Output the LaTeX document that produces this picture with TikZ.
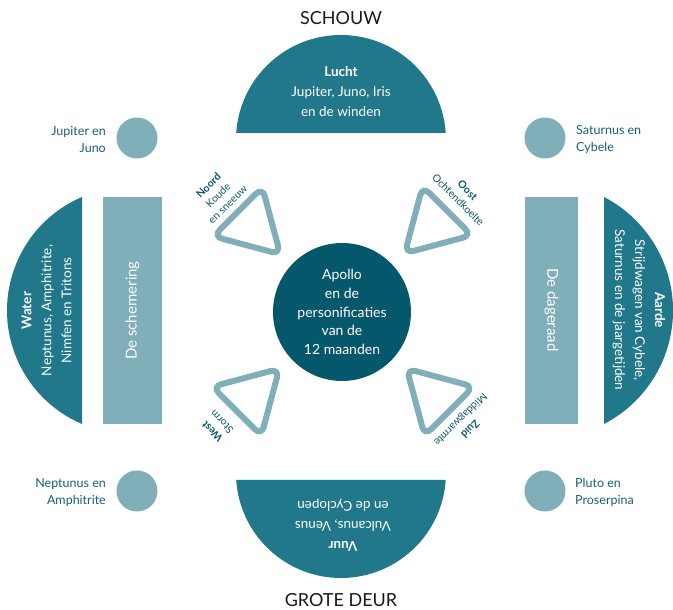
\documentclass[tikz,border=0pt]{standalone}
\usepackage{fontspec}
\setmainfont{Lato}
\definecolor{domeC}{HTML}{22788B}
\definecolor{darkC}{HTML}{05576B}
\definecolor{lightC}{HTML}{80AEB9}
\definecolor{labelC}{HTML}{1A6073}
\definecolor{tlabC}{HTML}{0D566B}
\definecolor{titleC}{HTML}{1A1A1A}
\begin{document}
\begin{tikzpicture}[x=1pt,y=1pt,
  domefill/.style={fill=domeC, draw=none},
  lightfill/.style={fill=lightC, draw=none},
  domelabel/.style={text=white, align=center, inner sep=0pt, font=\fontsize{13.5}{20}\selectfont},
  rectlabel/.style={text=white, align=center, inner sep=0pt, font=\fontsize{15}{18}\selectfont},
  sidelabel/.style={text=labelC, inner sep=0pt, font=\fontsize{12.5}{17}\selectfont},
  tlabel/.style={text=tlabC, align=center, inner sep=0pt, font=\fontsize{10.5}{13.5}\selectfont},
  tri/.style={draw=lightC, line width=6pt, rounded corners=9pt},
  title/.style={text=titleC, inner sep=0pt, font=\fontsize{18}{20}\selectfont}]
\useasboundingbox (0,0) rectangle (673,610);

% titles
\node[title] (schouw) at (341,592) {SCHOUW};
\node[title] (deur) at (341,10) {GROTE DEUR};

% top dome (Lucht)
\fill[domefill] (236.2,477) arc[start angle=176.18, end angle=3.82, radius=105] -- cycle;
\node[domelabel] (lucht) at (341,518) {\textbf{Lucht}\\Jupiter, Juno, Iris\\en de winden};

% bottom dome (Vuur)
\fill[domefill] (236.2,130) arc[start angle=183.82, end angle=356.18, radius=105] -- cycle;
\node[domelabel, rotate=180] (vuur) at (343,85) {\textbf{Vuur}\\Vulcanus, Venus\\en de Cyclopen};

% left dome (Water)
\fill[domefill] (82,413) arc[start angle=113.1, end angle=246.9, radius=123.4] -- cycle;
\node[domelabel, rotate=90] (water) at (46.5,299.5) {\textbf{Water}\\Neptunus, Amphitrite,\\Nimfen en Tritons};

% right dome (Aarde)
\fill[domefill] (604,186) arc[start angle=-62.6, end angle=62.6, radius=127.85] -- cycle;
\node[domelabel, rotate=-90] (aarde) at (639,300) {\textbf{Aarde}\\Strijdwagen van Cybele,\\Saturnus en de jaargetijden};

% rectangles
\fill[lightfill] (103,186) rectangle (162,413);
\node[rectlabel, rotate=90] (schemering) at (132.5,299.5) {De schemering};
\fill[lightfill] (525,186) rectangle (578,413);
\node[rectlabel, rotate=-90] (dageraad) at (551.5,300) {De dageraad};

% small circles
\fill[lightfill] (137,472) circle (20.5);
\fill[lightfill] (545,472) circle (20.5);
\fill[lightfill] (137,119) circle (20.5);
\fill[lightfill] (545,119) circle (20.5);
\node[sidelabel, anchor=east, align=right] (jupiter) at (106,470.5) {Jupiter en\\Juno};
\node[sidelabel, anchor=west, align=left] (saturnus) at (576,470.5) {Saturnus en\\Cybele};
\node[sidelabel, anchor=east, align=right] (neptunus) at (106,117.5) {Neptunus en\\Amphitrite};
\node[sidelabel, anchor=west, align=left] (pluto) at (575,117.5) {Pluto en\\Proserpina};

% centre
\node[circle, fill=darkC, minimum size=138pt, inner sep=0pt, text=white, align=center,
      font=\fontsize{14}{18.8}\selectfont] (apollo) at (342,298)
      {Apollo\\en de\\personificaties\\van de\\12 maanden};

% triangles (one vertex pointing to the centre)
\draw[tri, shift={(252,384)}] (15:20) -- (75:40) -- (195:40) -- (-45:40) -- cycle;
\draw[tri, shift={(433,385)}] (45:20) -- (105:40) -- (225:40) -- (-15:40) -- cycle;
\draw[tri, shift={(251,213)}] (-15:20) -- (45:40) -- (165:40) -- (285:40) -- cycle;
\draw[tri, shift={(435,213)}] (75:20) -- (135:40) -- (255:40) -- (15:40) -- cycle;

\node[tlabel, rotate=45] (noord) at (218,415) {\textbf{Noord}\\Koude\\en sneeuw};
\node[tlabel, rotate=-45] (oost) at (463,415) {\textbf{Oost}\\Ochtendkoelte};
\node[tlabel, rotate=135] (west) at (217,183) {\textbf{West}\\Storm};
\node[tlabel, rotate=-135] (zuid) at (465,186) {\textbf{Zuid}\\Middagwarmte};
\end{tikzpicture}
\end{document}
